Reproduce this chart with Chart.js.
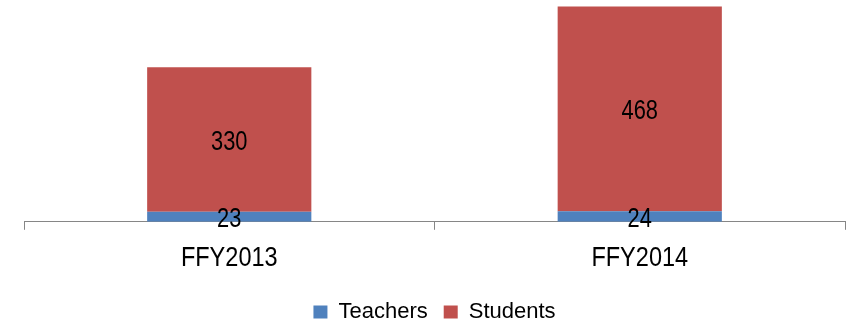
<!DOCTYPE html>
<html>
<head>
<meta charset="utf-8">
<script src="https://cdn.jsdelivr.net/npm/chart.js@4"></script>
<style>
  html, body { margin: 0; padding: 0; background: #fff; }
  #wrap { width: 854px; height: 324px; }
</style>
</head>
<body>
<div id="wrap"><canvas id="myChart"></canvas></div>
<script>
const categories = ['FFY2013', 'FFY2014'];
const teachers = [23, 24];
const students = [330, 468];

const fontFam = "'Liberation Sans', Arial, sans-serif";

// draw text squeezed sideways, the original uses a narrow font
function narrowText(ctx, txt, x, y, sx) {
    ctx.save();
    ctx.translate(x, y);
    ctx.scale(sx, 1);
    ctx.fillText(txt, 0, 0);
    ctx.restore();
}

// numbers in the middle of each segment + category labels under the axis
const narrowLabels = {
    id: 'narrowLabels',
    afterDraw(chart) {
        const ctx = chart.ctx;
        ctx.save();
        ctx.font = '28px ' + fontFam;
        ctx.fillStyle = '#000';
        ctx.textAlign = 'center';
        ctx.textBaseline = 'alphabetic';
        chart.data.datasets.forEach((ds, i) => {
            chart.getDatasetMeta(i).data.forEach((bar, j) => {
                let mid = (bar.y + bar.base) / 2;
                narrowText(ctx, String(ds.data[j]), bar.x, mid + 10, 0.78);
            });
        });
        const xs = chart.scales.x;
        chart.data.labels.forEach((lab, j) => {
            narrowText(ctx, lab, xs.getPixelForTick(j), xs.top + 44, 0.84);
        });
        ctx.restore();
    }
};

const ctx = document.getElementById('myChart');
new Chart(ctx, {
    type: 'bar',
    data: {
        labels: categories,
        datasets: [
            { label: 'Teachers', data: teachers, backgroundColor: '#4F81BD' },
            { label: 'Students', data: students, backgroundColor: '#C0504D' }
        ]
    },
    options: {
        responsive: true,
        maintainAspectRatio: false,
        animation: false,
        events: [],
        layout: { padding: { left: 24, right: 9, top: 3, bottom: -9 } },
        barPercentage: 0.4,
        categoryPercentage: 1,
        scales: {
            x: {
                stacked: true,
                border: { display: true, color: '#868686', width: 1 },
                grid: { drawOnChartArea: false, drawTicks: true, tickLength: 8, color: '#868686', offset: true },
                ticks: { color: 'rgba(0,0,0,0)', font: { family: fontFam, size: 26 }, padding: 12 }
            },
            y: {
                stacked: true,
                display: false,
                min: 0,
                max: 500
            }
        },
        plugins: {
            tooltip: { enabled: false },
            legend: {
                position: 'bottom',
                labels: {
                    color: '#000',
                    font: { family: fontFam, size: 22 },
                    boxWidth: 14,
                    boxHeight: 13,
                    padding: 16
                }
            }
        }
    },
    plugins: [narrowLabels]
});
</script>
</body>
</html>
